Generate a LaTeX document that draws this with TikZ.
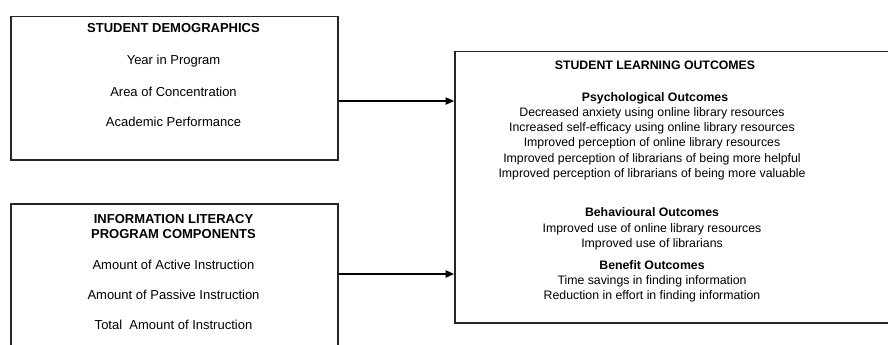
\documentclass[tikz,border=0pt]{standalone}
\usepackage{fontspec}
\setmainfont{Liberation Sans}
\usetikzlibrary{arrows.meta}
\tikzset{
  box/.style={draw=black!85, line width=1.5pt, anchor=north west, inner sep=0pt},
  conn/.style={draw=black, line width=1.1pt, -{Triangle[length=8.5pt,width=7.5pt]}},
  txt/.style={anchor=base, inner sep=0pt, font=\fontsize{13}{15.5}\selectfont},
  ttl/.style={txt, font=\fontsize{13}{15.5}\selectfont\bfseries},
  stxt/.style={anchor=base, inner sep=0pt, font=\fontsize{12.3}{15.3}\selectfont},
  sttl/.style={stxt, font=\fontsize{12.3}{15.3}\selectfont\bfseries}
}
\begin{document}
\begin{tikzpicture}[x=1pt,y=-1pt]
\useasboundingbox (0,0) rectangle (888,345);
\fill[white] (0,0) rectangle (888,345);
\clip (0,0) rectangle (888,345);
% boxes
\node[box, minimum width=327pt, minimum height=143pt] (b1) at (10,16) {};
\node[box, minimum width=327pt, minimum height=170pt] (b2) at (10,203) {};
\node[box, minimum width=470pt, minimum height=271pt] (b3) at (454,51) {};
% box 1 text
\node[ttl] (t1) at (173.5,32.7) {STUDENT DEMOGRAPHICS};
\node[txt] (t1a) at (173.5,64.5) {Year in Program};
\node[txt] (t1b) at (173.5,96) {Area of Concentration};
\node[txt] (t1c) at (173.5,126) {Academic Performance};
% box 2 text
\node[ttl] (t2) at (173.5,223.3) {INFORMATION LITERACY};
\node[ttl] (t2x) at (173.5,238.3) {PROGRAM COMPONENTS};
\node[txt] (t2a) at (173.5,269.5) {Amount of Active Instruction};
\node[txt] (t2b) at (173.5,299) {Amount of Passive Instruction};
\node[txt] (t2c) at (173.5,329) {Total~ Amount of Instruction};
% box 3 text
\node[sttl] (t3) at (655,69.3) {STUDENT LEARNING OUTCOMES};
\node[sttl] (p0) at (655,101.3) {Psychological Outcomes};
\node[stxt] (p1) at (652,116.5) {Decreased anxiety using online library resources};
\node[stxt] (p2) at (652,131.7) {Increased self-efficacy using online library resources};
\node[stxt] (p3) at (652,146.9) {Improved perception of online library resources};
\node[stxt] (p4) at (652,162.1) {Improved perception of librarians of being more helpful};
\node[stxt] (p5) at (652,177.3) {Improved perception of librarians of being more valuable};
\node[sttl] (h0) at (652,216.7) {Behavioural Outcomes};
\node[stxt] (h1) at (652,232.2) {Improved use of online library resources};
\node[stxt] (h2) at (652,247.7) {Improved use of librarians};
\node[sttl] (e0) at (652,269) {Benefit Outcomes};
\node[stxt] (e1) at (652,284) {Time savings in finding information};
\node[stxt] (e2) at (652,299) {Reduction in effort in finding information};
% connectors
\coordinate (y1) at (0,101);
\coordinate (y2) at (0,274);
\draw[conn] (b1.east |- y1) -- (b3.west |- y1);
\draw[conn] (b2.east |- y2) -- (b3.west |- y2);
\end{tikzpicture}
\end{document}
